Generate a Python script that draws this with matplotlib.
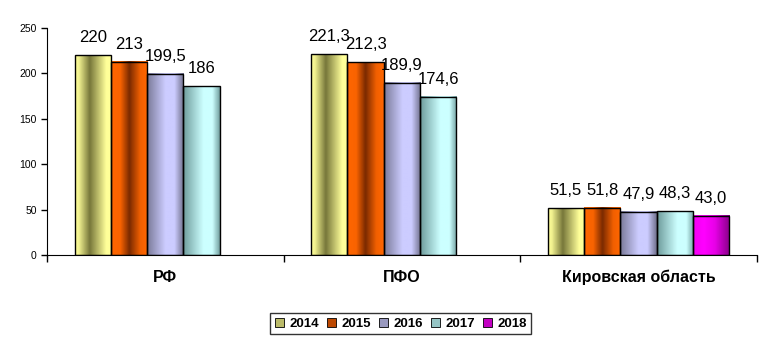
import numpy as np
import matplotlib
matplotlib.use('Agg')
import matplotlib.pyplot as plt
from matplotlib.patches import Patch

plt.rcParams['font.family'] = ['Liberation Sans', 'DejaVu Sans']

# data
regions = ['РФ', 'ПФО', 'Кировская область']
years = ['2014', '2015', '2016', '2017', '2018']
v2014 = [220, 221.3, 51.5]
v2015 = [213, 212.3, 51.8]
v2016 = [199.5, 189.9, 47.9]
v2017 = [186, 174.6, 48.3]
v2018 = [None, None, 43.0]
lab2014 = ['220', '221,3', '51,5']
lab2015 = ['213', '212,3', '51,8']
lab2016 = ['199,5', '189,9', '47,9']
lab2017 = ['186', '174,6', '48,3']
lab2018 = [None, None, '43,0']

series = [v2014, v2015, v2016, v2017, v2018]
labels = [lab2014, lab2015, lab2016, lab2017, lab2018]

# light / dark colours and shading profile (x position, brightness)
light = ['#FFFF99', '#FF6600', '#CCCCFF', '#CCFFFF', '#FF00FF']
dark = ['#77773A', '#7A2A00', '#66667F', '#5E8A8A', '#880088']
profiles = [
    ([0, 0.1, 0.4, 0.85, 1], [1, 0.9, 0.0, 1, 1]),
    ([0, 0.25, 0.5, 0.8, 1], [1, 0.95, 0.0, 0.9, 1]),
    ([0, 0.5, 0.75, 1], [0.2, 1, 1, 0.1]),
    ([0, 0.55, 0.8, 1], [0.15, 1, 1, 0.2]),
    ([0, 0.3, 0.6, 1], [0.9, 1, 0.8, 0.0]),
]

def hex2rgb(h):
    return np.array(matplotlib.colors.to_rgb(h))

fig = plt.figure(figsize=(7.77, 3.51), dpi=100)
ax = fig.add_axes([0.0605, 0.2735, 0.9135, 0.6465])

width = 0.1535
start = 0.5 - 2.5 * width
xs = np.linspace(0, 1, 64)

for i, vals in enumerate(series):
    t = np.interp(xs, *profiles[i])
    lo, hi = hex2rgb(dark[i]), hex2rgb(light[i])
    grad = (lo[None, :] + t[:, None] * (hi - lo)[None, :])[None, :, :]
    for j, v in enumerate(vals):
        if v is None:
            continue
        x0 = j + start + i * width
        ax.imshow(grad, extent=[x0, x0 + width, 0, v], aspect='auto',
                  interpolation='bilinear', zorder=2)
        ax.bar(x0, v, width=width, align='edge', fill=False,
               edgecolor='black', linewidth=1, zorder=3)
        ax.text(x0 + width / 2, v + 11, labels[i][j], ha='center', va='bottom',
                fontsize=12)

ax.set_xlim(0, 3)
ax.set_ylim(0, 250)
ax.set_yticks(range(0, 251, 50))
ax.tick_params(axis='y', labelsize=7.5, length=4, width=1)
ax.set_xticks([0, 1, 2, 3])
ax.set_xticklabels([])
ax.tick_params(axis='x', length=5, width=1)
for j, r in enumerate(regions):
    ax.text(j + 0.5, -16, r, ha='center', va='top', fontsize=11.5,
            fontweight='bold')
ax.spines['top'].set_visible(False)
ax.spines['right'].set_visible(False)

handles = [Patch(facecolor=matplotlib.colors.to_hex((hex2rgb(light[i]) + hex2rgb(dark[i])) / 2),
                 edgecolor='black', linewidth=0.6) for i in range(5)]
leg = fig.legend(handles, years, loc='center', bbox_to_anchor=(0.5155, 0.078),
                 ncol=5, frameon=True, fancybox=False, edgecolor='black',
                 prop={'weight': 'bold', 'size': 9.5}, handlelength=0.7,
                 handleheight=0.7, handletextpad=0.4, columnspacing=0.6,
                 borderpad=0.35)
leg.get_frame().set_linewidth(1)

fig.savefig('out.png', dpi=100)
